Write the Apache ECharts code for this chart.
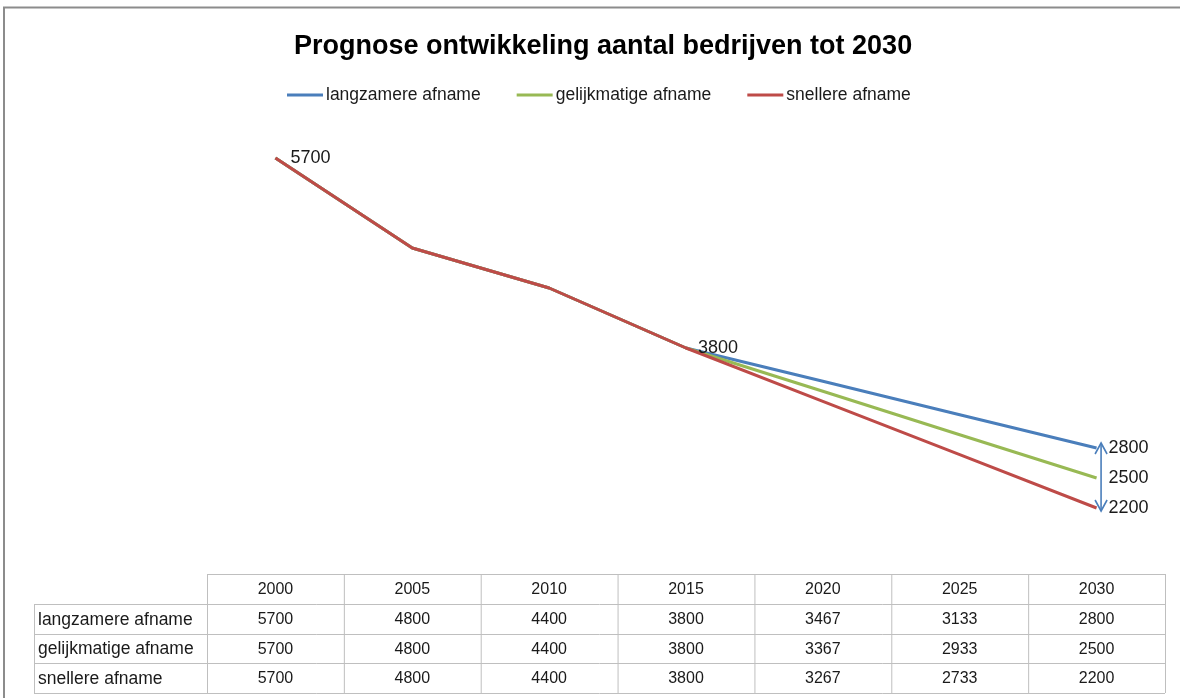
<!DOCTYPE html>
<html>
<head>
<meta charset="utf-8">
<script src="https://cdn.jsdelivr.net/npm/echarts@6/dist/echarts.min.js"></script>
<style>
html,body{margin:0;padding:0;background:#fff;}
#chart{width:1180px;height:698px;}
</style>
</head>
<body>
<div id="chart"></div>
<script>
var years = ['2000','2005','2010','2015','2020','2025','2030'];
var seriesNames = ['langzamere afname','gelijkmatige afname','snellere afname'];
var langzamere = [5700,4800,4400,3800,3467,3133,2800];
var gelijkmatige = [5700,4800,4400,3800,3367,2933,2500];
var snellere = [5700,4800,4400,3800,3267,2733,2200];
var labelIdxLangzamere = [6];
var labelIdxGelijkmatige = [6];
var labelIdxSnellere = [0,3,6];

var colors = ['#4a7ebb','#98b954','#be4b48'];
var FONT = 'Liberation Sans';

function buildData(vals, idxs){
  return vals.map(function(v,i){
    if (idxs.indexOf(i) >= 0) {
      var d = 12;
      if (i === 0) d = 15;
      return {value: v, label: {show: true, distance: d}};
    }
    return v;
  });
}

var chart = echarts.init(document.getElementById('chart'));
var lbl = {show:false, position:'right', distance:12, color:'#1a1a1a', fontSize:18, fontFamily:FONT};

function mkSeries(name, vals, idxs, color){
  return {
    name: name, type:'line', data: buildData(vals, idxs),
    symbol:'circle', symbolSize:0, showSymbol:true,
    lineStyle:{color:color, width:3},
    itemStyle:{color:color},
    label: lbl,
    emphasis:{disabled:true},
    animation:false
  };
}

var option = {
  animation:false,
  textStyle:{fontFamily:FONT},
  title:{
    text:'Prognose ontwikkeling aantal bedrijven tot 2030',
    left:289, top:28,
    textStyle:{fontSize:27, fontWeight:'bold', color:'#000', fontFamily:FONT}
  },
  legend:{
    top:81, left:282,
    itemWidth:36, itemHeight:3, itemGap:36,
    icon:'rect',
    textStyle:{fontSize:17.5, color:'#1a1a1a', fontFamily:FONT, padding:[0,0,0,-2]},
    data: seriesNames
  },
  grid:{left:207, right:15, top:128, height:400},
  xAxis:{type:'category', data:years, boundaryGap:true, show:false},
  yAxis:{type:'value', min:2000, max:6000, interval:1000, show:false},
  series:[
    mkSeries(seriesNames[0], langzamere, labelIdxLangzamere, colors[0]),
    mkSeries(seriesNames[1], gelijkmatige, labelIdxGelijkmatige, colors[1]),
    mkSeries(seriesNames[2], snellere, labelIdxSnellere, colors[2])
  ],
  graphic:[]
};
chart.setOption(option);

var gridLeft = 207, gridRight = 1165;
var colW = (gridRight - gridLeft) / years.length;
var rowY = [574, 604, 634, 663, 693];
var labelLeft = 34;
var lineColor = '#bfbfbf';
var g = [];
function hline(x1,x2,y){ g.push({type:'line', shape:{x1:x1,y1:y+0.5,x2:x2,y2:y+0.5}, style:{stroke:lineColor, lineWidth:1}, silent:true}); }
function vline(x,y1,y2){ g.push({type:'line', shape:{x1:x+0.5,y1:y1,x2:x+0.5,y2:y2}, style:{stroke:lineColor, lineWidth:1}, silent:true}); }

hline(gridLeft, gridRight, rowY[0]);
for (var r=1; r<rowY.length; r++) hline(labelLeft, gridRight, rowY[r]);
vline(labelLeft, rowY[1], rowY[4]);
for (var c=0; c<=years.length; c++) vline(gridLeft + c*colW, rowY[0], rowY[4]);

var tableVals = [langzamere, gelijkmatige, snellere];
years.forEach(function(y, i){
  var cx = chart.convertToPixel({xAxisIndex:0}, y);
  g.push({type:'text', x:cx, y:(rowY[0]+rowY[1])/2+1, silent:true,
    style:{text:y, fill:'#1a1a1a', font:'16px "'+FONT+'"', textAlign:'center', textVerticalAlign:'middle'}});
  tableVals.forEach(function(arr, r){
    g.push({type:'text', x:cx, y:(rowY[r+1]+rowY[r+2])/2+1, silent:true,
      style:{text:String(arr[i]), fill:'#1a1a1a', font:'16px "'+FONT+'"', textAlign:'center', textVerticalAlign:'middle'}});
  });
});
seriesNames.forEach(function(n, r){
  g.push({type:'text', x:labelLeft+4, y:(rowY[r+1]+rowY[r+2])/2+1, silent:true,
    style:{text:n, fill:'#1a1a1a', font:'17.5px "'+FONT+'"', textAlign:'left', textVerticalAlign:'middle'}});
});

// double-headed arrow at last category between highest and lowest scenario
var last = years.length - 1;
var pTop = chart.convertToPixel({xAxisIndex:0, yAxisIndex:0}, [years[last], langzamere[last]]);
var pBot = chart.convertToPixel({xAxisIndex:0, yAxisIndex:0}, [years[last], snellere[last]]);
var ax = pTop[0] + 4.5, ayT = pTop[1] - 5, ayB = pBot[1] + 3;
var arrowStyle = {stroke:'#4a7ebb', lineWidth:1.6, fill:null, lineJoin:'miter'};
g.push({type:'line', shape:{x1:ax, y1:ayT, x2:ax, y2:ayB}, style:arrowStyle, silent:true, z:10});
g.push({type:'polyline', shape:{points:[[ax-6, ayT+11],[ax, ayT],[ax+6, ayT+11]]}, style:arrowStyle, silent:true, z:10});
g.push({type:'polyline', shape:{points:[[ax-6, ayB-11],[ax, ayB],[ax+6, ayB-11]]}, style:arrowStyle, silent:true, z:10});

// outer frame (top and left)
g.push({type:'line', shape:{x1:3, y1:7.5, x2:1180, y2:7.5}, style:{stroke:'#8c8c8c', lineWidth:2}, silent:true});
g.push({type:'line', shape:{x1:4, y1:7, x2:4, y2:698}, style:{stroke:'#8c8c8c', lineWidth:2}, silent:true});

chart.setOption({graphic: g});
</script>
</body>
</html>
